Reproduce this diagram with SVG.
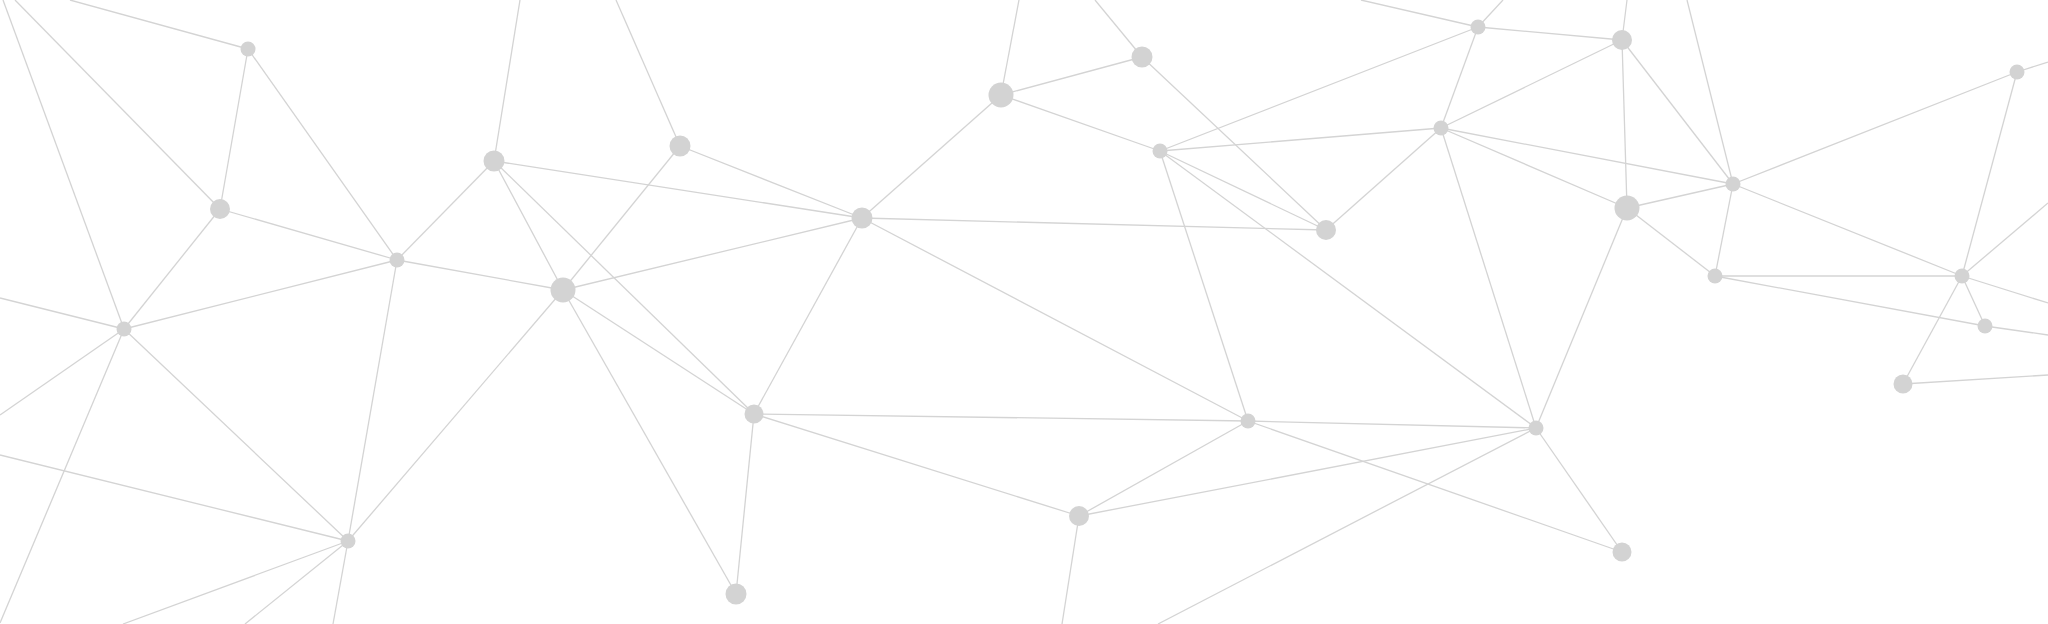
<svg xmlns="http://www.w3.org/2000/svg" width="2048" height="624" viewBox="0 0 2048 624">
<style>
.e line{stroke:#d4d4d4;stroke-width:1.3;fill:none}
.n circle{fill:#d3d3d3}
</style>
<rect width="2048" height="624" fill="#ffffff"/>
<g id="connectors" class="e">
<line x1="3" y1="0" x2="124" y2="329"/>
<line x1="15" y1="0" x2="220" y2="209"/>
<line x1="70" y1="0" x2="248" y2="49"/>
<line x1="248" y1="49" x2="220" y2="209"/>
<line x1="248" y1="49" x2="397" y2="260"/>
<line x1="220" y1="209" x2="397" y2="260"/>
<line x1="220" y1="209" x2="124" y2="329"/>
<line x1="397" y1="260" x2="124" y2="329"/>
<line x1="397" y1="260" x2="494" y2="161"/>
<line x1="397" y1="260" x2="563" y2="290"/>
<line x1="397" y1="260" x2="348" y2="541"/>
<line x1="520" y1="0" x2="494" y2="161"/>
<line x1="494" y1="161" x2="862" y2="218"/>
<line x1="494" y1="161" x2="563" y2="290"/>
<line x1="494" y1="161" x2="754" y2="414"/>
<line x1="616" y1="0" x2="680" y2="146"/>
<line x1="680" y1="146" x2="862" y2="218"/>
<line x1="680" y1="146" x2="563" y2="290"/>
<line x1="563" y1="290" x2="862" y2="218"/>
<line x1="563" y1="290" x2="348" y2="541"/>
<line x1="563" y1="290" x2="736" y2="594"/>
<line x1="563" y1="290" x2="754" y2="414"/>
<line x1="0" y1="298" x2="124" y2="329"/>
<line x1="0" y1="415" x2="124" y2="329"/>
<line x1="124" y1="329" x2="0" y2="623"/>
<line x1="124" y1="329" x2="348" y2="541"/>
<line x1="0" y1="455" x2="348" y2="541"/>
<line x1="348" y1="541" x2="123" y2="624"/>
<line x1="348" y1="541" x2="245" y2="624"/>
<line x1="348" y1="541" x2="333" y2="624"/>
<line x1="1019" y1="0" x2="1001" y2="95"/>
<line x1="1095" y1="0" x2="1142" y2="57"/>
<line x1="1001" y1="95" x2="1142" y2="57"/>
<line x1="1001" y1="95" x2="1160" y2="151"/>
<line x1="1001" y1="95" x2="862" y2="218"/>
<line x1="1142" y1="57" x2="1326" y2="230"/>
<line x1="1160" y1="151" x2="1478" y2="27"/>
<line x1="1160" y1="151" x2="1441" y2="128"/>
<line x1="1160" y1="151" x2="1326" y2="230"/>
<line x1="1160" y1="151" x2="1248" y2="421"/>
<line x1="1160" y1="151" x2="1536" y2="428"/>
<line x1="862" y1="218" x2="1326" y2="230"/>
<line x1="862" y1="218" x2="754" y2="414"/>
<line x1="862" y1="218" x2="1248" y2="421"/>
<line x1="1326" y1="230" x2="1441" y2="128"/>
<line x1="1361" y1="0" x2="1478" y2="27"/>
<line x1="1503" y1="0" x2="1478" y2="27"/>
<line x1="1478" y1="27" x2="1622" y2="40"/>
<line x1="1478" y1="27" x2="1441" y2="128"/>
<line x1="1627" y1="0" x2="1622" y2="40"/>
<line x1="1622" y1="40" x2="1441" y2="128"/>
<line x1="1622" y1="40" x2="1627" y2="208"/>
<line x1="1622" y1="40" x2="1733" y2="184"/>
<line x1="1687" y1="0" x2="1733" y2="184"/>
<line x1="1441" y1="128" x2="1733" y2="184"/>
<line x1="1441" y1="128" x2="1627" y2="208"/>
<line x1="1441" y1="128" x2="1536" y2="428"/>
<line x1="1627" y1="208" x2="1733" y2="184"/>
<line x1="1627" y1="208" x2="1715" y2="276"/>
<line x1="1627" y1="208" x2="1536" y2="428"/>
<line x1="1733" y1="184" x2="1715" y2="276"/>
<line x1="1733" y1="184" x2="2017" y2="72"/>
<line x1="1733" y1="184" x2="1962" y2="276"/>
<line x1="1715" y1="276" x2="1962" y2="276"/>
<line x1="1715" y1="276" x2="1985" y2="326"/>
<line x1="2017" y1="72" x2="2048" y2="62"/>
<line x1="2017" y1="72" x2="1962" y2="276"/>
<line x1="1962" y1="276" x2="2048" y2="203"/>
<line x1="1962" y1="276" x2="2048" y2="303"/>
<line x1="1962" y1="276" x2="1903" y2="384"/>
<line x1="1962" y1="276" x2="1985" y2="326"/>
<line x1="1985" y1="326" x2="2048" y2="335"/>
<line x1="1903" y1="384" x2="2048" y2="375"/>
<line x1="754" y1="414" x2="1248" y2="421"/>
<line x1="754" y1="414" x2="1079" y2="516"/>
<line x1="754" y1="414" x2="736" y2="594"/>
<line x1="1079" y1="516" x2="1248" y2="421"/>
<line x1="1079" y1="516" x2="1536" y2="428"/>
<line x1="1079" y1="516" x2="1062" y2="624"/>
<line x1="1248" y1="421" x2="1536" y2="428"/>
<line x1="1248" y1="421" x2="1622" y2="552"/>
<line x1="1536" y1="428" x2="1622" y2="552"/>
<line x1="1536" y1="428" x2="1158" y2="624"/>
</g>
<g id="nodes" class="n">
<g id="n1"><circle cx="248" cy="49" r="7.5"/></g>
<g id="n2"><circle cx="220" cy="209" r="10"/></g>
<g id="n3"><circle cx="397" cy="260" r="7.5"/></g>
<g id="n4"><circle cx="494" cy="161" r="10.5"/></g>
<g id="n5"><circle cx="680" cy="146" r="10.5"/></g>
<g id="n6"><circle cx="563" cy="290" r="12.5"/></g>
<g id="n7"><circle cx="124" cy="329" r="7.5"/></g>
<g id="n8"><circle cx="348" cy="541" r="7.5"/></g>
<g id="n9"><circle cx="862" cy="218" r="10.5"/></g>
<g id="n10"><circle cx="1001" cy="95" r="12.5"/></g>
<g id="n11"><circle cx="1142" cy="57" r="10.5"/></g>
<g id="n12"><circle cx="1160" cy="151" r="7.5"/></g>
<g id="n13"><circle cx="1326" cy="230" r="10"/></g>
<g id="n14"><circle cx="754" cy="414" r="9.5"/></g>
<g id="n15"><circle cx="736" cy="594" r="10.5"/></g>
<g id="n16"><circle cx="1079" cy="516" r="10"/></g>
<g id="n17"><circle cx="1248" cy="421" r="7.5"/></g>
<g id="n18"><circle cx="1478" cy="27" r="7.5"/></g>
<g id="n19"><circle cx="1622" cy="40" r="10"/></g>
<g id="n20"><circle cx="1441" cy="128" r="7.5"/></g>
<g id="n21"><circle cx="1733" cy="184" r="7.5"/></g>
<g id="n22"><circle cx="1627" cy="208" r="12.5"/></g>
<g id="n23"><circle cx="1715" cy="276" r="7.5"/></g>
<g id="n24"><circle cx="2017" cy="72" r="7.5"/></g>
<g id="n25"><circle cx="1962" cy="276" r="7.5"/></g>
<g id="n26"><circle cx="1536" cy="428" r="7.5"/></g>
<g id="n27"><circle cx="1622" cy="552" r="9.5"/></g>
<g id="n28"><circle cx="1985" cy="326" r="7.5"/></g>
<g id="n29"><circle cx="1903" cy="384" r="9.5"/></g>
</g>
</svg>
